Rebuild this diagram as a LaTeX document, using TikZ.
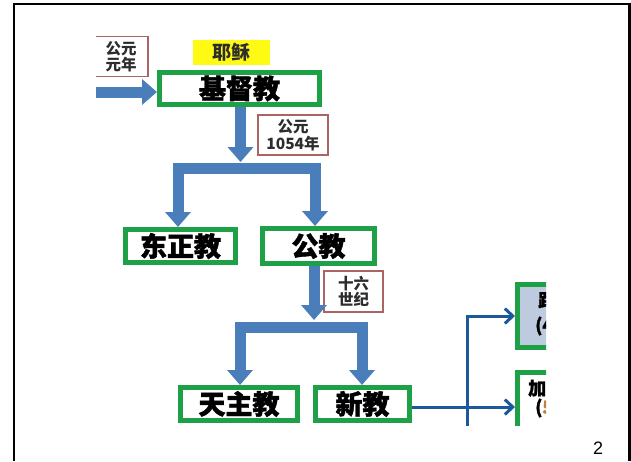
\documentclass[tikz,border=0pt]{standalone}
\usepackage{fontspec}
\newfontfamily\cjk{Noto Sans CJK SC}
\newfontfamily\cjkheavy{Noto Sans CJK SC}[BoldFeatures={FakeBold=1.5}]
\setsansfont{Liberation Sans}
\usetikzlibrary{arrows.meta,calc}
\definecolor{boxgreen}{RGB}{30,160,70}
\definecolor{fatblue}{RGB}{74,126,187}
\definecolor{thinblue}{RGB}{28,88,158}
\definecolor{labred}{RGB}{170,100,100}
\definecolor{paleblue}{RGB}{190,202,222}
\definecolor{yel}{RGB}{255,250,20}
\definecolor{labtext}{RGB}{45,45,45}
\begin{document}
\begin{tikzpicture}[x=1pt,y=-1pt,
  gbox/.style={draw=boxgreen,line width=5pt,fill=white,inner sep=0pt,
    font=\cjkheavy\bfseries\fontsize{27}{27}\selectfont},
  lab/.style={draw=labred,line width=1.6pt,fill=white,inner sep=0pt,align=center,
    text=labtext,font=\cjk\bfseries\fontsize{15.5}{16.5}\selectfont},
  fat/.style={draw=fatblue,line width=11pt,line join=miter},
  fattip/.style={-{Triangle[width=25pt,length=15pt]}},
  thin/.style={draw=thinblue,line width=3pt,-{Straight Barb[width=15pt,length=8pt,line width=3pt]}},
  rtext/.style={anchor=west,inner sep=0pt,font=\cjkheavy\bfseries\fontsize{18}{18}\selectfont}
]
\useasboundingbox (0,0) rectangle (631,461);
\fill[white] (0,0) rectangle (631,461);
\begin{scope}
\clip (96,30) rectangle (546,425);
% labels
\node[lab,minimum width=54pt,minimum height=40pt] (l1) at (121,56.5) {公元\\元年};
\node[fill=yel,minimum width=77pt,minimum height=25pt,inner sep=0pt,text=labtext,
  font=\cjk\bfseries\fontsize{19}{19}\selectfont] (jesus) at (231.5,52.5) {耶稣};
% green boxes
\node[gbox,minimum width=160pt,minimum height=32pt] (jidu) at (239.5,88.5) {基督教};
\node[gbox,minimum width=110pt,minimum height=33pt] (dong) at (180.5,246) {东正教};
\node[gbox,minimum width=112pt,minimum height=35pt] (gong) at (318.5,246) {公教};
\node[gbox,minimum width=117pt,minimum height=33pt] (tian) at (239,404) {天主教};
\node[gbox,minimum width=94pt,minimum height=33pt] (xin) at (362.5,404) {新教};
\node[lab,minimum width=70pt,minimum height=40pt] (l2) at (293,135) {公元\\1054年};
\node[lab,minimum width=59pt,minimum height=41pt] (l3) at (353.5,291.5) {十六\\世纪};
% right boxes
\node[draw=boxgreen,line width=5pt,fill=paleblue,minimum width=100pt,minimum height=63pt] (lu) at (567.5,316) {};
\node[draw=boxgreen,line width=5pt,fill=white,minimum width=100pt,minimum height=70pt] (jia) at (567.5,407.5) {};
\node[rtext] (lut1) at (538,300) {路德宗};
\node[rtext] (lut2) at (535,326) {(4};
\node[rtext] (jiat1) at (528,388) {加尔文宗};
\node[rtext] (jiat2) at (535,408) {(\textcolor{brown}{5}};
% fat arrows
\coordinate (src) at (90,92);
\draw[fat,fattip] (src) -- (src -| jidu.west);
\coordinate (t1) at (240.5,162);
\coordinate (b1l) at (178,168);
\coordinate (b1r) at (315,168);
\draw[fat,fattip] (t1 |- jidu.south) -- (t1);
\draw[fat,{Triangle[width=25pt,length=15pt]}-{Triangle[width=25pt,length=15pt]}]
  (b1l |- dong.north) -- (b1l) -- (b1r) -- (b1r |- gong.north);
\coordinate (t2) at (314,320);
\coordinate (b2l) at (240,327);
\coordinate (b2r) at (362,327);
\draw[fat,fattip] (t2 |- gong.south) -- (t2);
\draw[fat,{Triangle[width=25pt,length=15pt]}-{Triangle[width=25pt,length=15pt]}]
  (b2l |- tian.north) -- (b2l) -- (b2r) -- (b2r |- xin.north);
% thin connectors
\coordinate (vb) at (467,430);
\draw[thin] (xin.east |- 0,407) -- (jia.west |- 0,407);
\draw[thin] (vb) |- (lu.west);
\end{scope}
% frame
\draw[line width=2.6pt] (14,461) -- (14,4) -- (630,4);
\draw[line width=3.5pt] (629.5,2.7) -- (629.5,461);
\node[font=\sffamily\fontsize{18}{18}\selectfont,inner sep=0pt] (pg) at (598,448) {2};
\end{tikzpicture}
\end{document}
